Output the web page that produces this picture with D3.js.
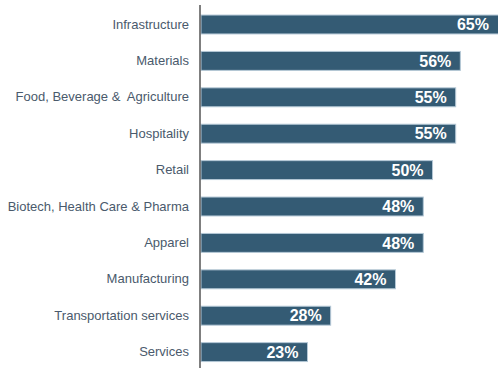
<!DOCTYPE html>
<html>
<head>
<meta charset="utf-8">
<script src="https://cdn.jsdelivr.net/npm/d3@7/dist/d3.min.js"></script>
<style>
  html, body { margin: 0; padding: 0; background: #fff; overflow: hidden; }
  svg { display: block; }
  text { white-space: pre; }
</style>
</head>
<body>
<svg id="chart" width="498" height="368"></svg>
<script>
// Sector shares, top to bottom
const categories = [
  "Infrastructure",
  "Materials",
  "Food, Beverage &  Agriculture",
  "Hospitality",
  "Retail",
  "Biotech, Health Care & Pharma",
  "Apparel",
  "Manufacturing",
  "Transportation services",
  "Services"
];
const values = [65, 56, 55, 55, 50, 48, 48, 42, 28, 23];

const data = categories.map((c, i) => ({ category: c, value: values[i] }));

const svg = d3.select("#chart");

const x = d3.scaleLinear().domain([0, 65]).range([201, 502]);
const y = d3.scaleBand()
  .domain(categories)
  .range([6.3, 370.3])
  .paddingInner(0.48)
  .paddingOuter(0.24);

// Bars
svg.append("g")
  .selectAll("rect")
  .data(data)
  .join("rect")
  .attr("x", x(0))
  .attr("y", d => y(d.category))
  .attr("width", d => x(d.value) - x(0))
  .attr("height", y.bandwidth())
  .attr("fill", "#345b74")
  .attr("stroke", "#b4c8d6")
  .attr("stroke-width", 1);

// Category axis
const yAxis = d3.axisLeft(y).tickSize(0).tickPadding(11);
const axisG = svg.append("g")
  .attr("transform", `translate(${x(0) - 1},0)`)
  .call(yAxis);
axisG.select(".domain").remove();
axisG.selectAll("text")
  .attr("font-family", "'Liberation Sans', Arial, sans-serif")
  .attr("font-size", 13)
  .attr("fill", "#4a5a6c")
  .style("white-space", "pre");

svg.append("line")
  .attr("x1", x(0) - 1).attr("x2", x(0) - 1)
  .attr("y1", 5).attr("y2", 368)
  .attr("stroke", "#555")
  .attr("stroke-width", 1.5);

// Value labels inside bar ends
svg.append("g")
  .selectAll("text")
  .data(data)
  .join("text")
  .attr("x", d => Math.min(x(d.value), 498) - 9)
  .attr("y", d => y(d.category) + y.bandwidth() / 2)
  .attr("dy", "0.36em")
  .attr("text-anchor", "end")
  .attr("font-family", "'Liberation Sans', Arial, sans-serif")
  .attr("font-weight", "bold")
  .attr("font-size", 16)
  .attr("fill", "#fff")
  .text(d => d.value + "%");
</script>
</body>
</html>
